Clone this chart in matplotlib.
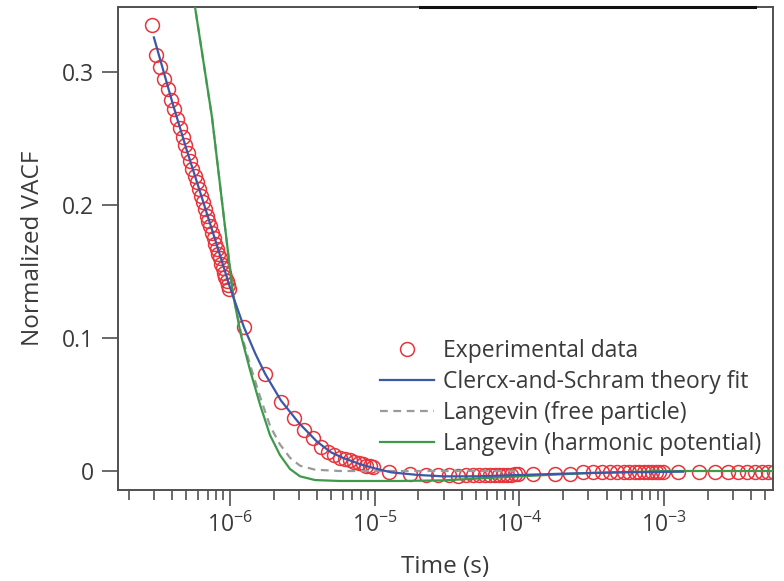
import numpy as np
import matplotlib
matplotlib.use("Agg")
import matplotlib.pyplot as plt
from matplotlib.ticker import LogLocator, FixedLocator

plt.rcParams['font.family'] = ['Open Sans', 'DejaVu Sans']
plt.rcParams['mathtext.fontset'] = 'custom'
plt.rcParams['mathtext.rm'] = 'Open Sans'
plt.rcParams['mathtext.it'] = 'Open Sans:italic'
plt.rcParams['mathtext.bf'] = 'Open Sans:bold'

exp_t1 = np.array([2.9, 3.1, 3.3, 3.5, 3.7, 3.9, 4.1, 4.3, 4.5, 4.7, 4.9, 5.1,
                   5.3, 5.5, 5.7, 5.9, 6.1, 6.3, 6.5, 6.7, 6.9, 7.1, 7.3, 7.5,
                   7.7, 7.9, 8.1, 8.3, 8.5, 8.7, 8.9, 9.1, 9.3, 9.5, 9.7, 9.9]) * 1e-7
exp_v1 = [0.335, 0.313, 0.304, 0.295, 0.287, 0.279, 0.272, 0.265, 0.258, 0.251,
          0.245, 0.239, 0.233, 0.227, 0.222, 0.217, 0.212, 0.207, 0.202, 0.197,
          0.192, 0.188, 0.184, 0.179, 0.175, 0.171, 0.167, 0.163, 0.160, 0.156,
          0.153, 0.149, 0.146, 0.143, 0.140, 0.137]
mant = np.array([1.25, 1.75, 2.25, 2.75, 3.25, 3.75, 4.25, 4.75, 5.25, 5.75,
                 6.25, 6.75, 7.25, 7.75, 8.25, 8.75, 9.25, 9.75])
exp_t2 = mant * 1e-6
exp_v2 = [0.108, 0.073, 0.052, 0.040, 0.031, 0.025, 0.018, 0.014, 0.012, 0.010,
          0.009, 0.008, 0.007, 0.006, 0.005, 0.004, 0.004, 0.003]
exp_t3 = mant * 1e-5
exp_v3 = [-0.001, -0.002, -0.003, -0.003, -0.003, -0.004, -0.003, -0.003, -0.003,
          -0.003, -0.003, -0.003, -0.003, -0.003, -0.003, -0.003, -0.002, -0.002]
exp_t4 = mant * 1e-4
exp_v4 = [-0.002, -0.002, -0.002, -0.001, -0.001, -0.001, -0.001, -0.001, -0.001,
          -0.001, -0.001, -0.001, -0.001, -0.001, -0.001, -0.001, -0.001, -0.001]
exp_t5 = mant[:10] * 1e-3
exp_v5 = [-0.0005, -0.0005, -0.0005, -0.0005, -0.0005, -0.0005, -0.0005, -0.0005,
          -0.0005, -0.0005]

# Clercx-and-Schram fit
fit_t = [2.98e-7, 4e-7, 5e-7, 6e-7, 7e-7, 8e-7, 1e-6, 1.25e-6, 1.5e-6, 1.75e-6,
         2.25e-6, 3e-6, 4e-6, 5e-6, 6e-6, 8e-6, 1e-5, 1.3e-5, 2e-5, 3e-5, 5e-5,
         1e-4, 2e-4, 5e-4, 1.35e-3]
fit_v = [0.326, 0.277, 0.242, 0.215, 0.192, 0.172, 0.138, 0.108, 0.088, 0.073,
         0.053, 0.036, 0.022, 0.014, 0.010, 0.005, 0.002, -0.001, -0.003, -0.004,
         -0.004, -0.003, -0.002, -0.001, -0.0005]

# Langevin, free particle
free_t = [4.5e-7, 5.73e-7, 7.51e-7, 9.09e-7, 1.049e-6, 1.191e-6, 1.375e-6, 1.612e-6,
          1.89e-6, 2.215e-6, 2.598e-6, 3.046e-6, 3.868e-6, 5.76e-6, 1e-5, 1e-4]
free_v = [0.43, 0.349, 0.266, 0.190, 0.133, 0.104, 0.080, 0.056,
          0.034, 0.020, 0.010, 0.004, 0.001, 0.0, 0.0, 0.0]

# Langevin, harmonic potential
harm_t = [4.5e-7, 5.73e-7, 7.51e-7, 9.09e-7, 1.049e-6, 1.191e-6, 1.375e-6, 1.612e-6,
          1.89e-6, 2.215e-6, 2.598e-6, 3.046e-6, 3.868e-6, 5.76e-6, 1.5e-5, 3e-5,
          1e-4, 3e-4, 1e-3, 5.7e-3]
harm_v = [0.43, 0.349, 0.266, 0.190, 0.133, 0.102, 0.076, 0.050,
          0.027, 0.012, 0.0015, -0.004, -0.0068, -0.0075, -0.0075, -0.007,
          -0.004, -0.0015, 0.0, 0.0]

exp_t = np.concatenate([exp_t1, exp_t2, exp_t3, exp_t4, exp_t5])
exp_v = exp_v1 + exp_v2 + exp_v3 + exp_v4 + exp_v5

txt = '#3a3a3a'
spine = '#505050'

fig = plt.figure(figsize=(7.84, 5.81), dpi=100)
ax = fig.add_axes([0.1505, 0.1566, 0.8355, 0.8314])

ax.plot(exp_t, exp_v, 'o', ms=10, mfc='none', mec='#e8343c', mew=1.1,
        label='Experimental data', zorder=2)
ax.plot(fit_t, fit_v, '-', color='#3b57a8', lw=1.6,
        label='Clercx-and-Schram theory fit', zorder=4)
ax.plot(free_t, free_v, '--', color='#9a9a9a', lw=1.6, dashes=(3.5, 2.5),
        label='Langevin (free particle)', zorder=3)
ax.plot(harm_t, harm_v, '-', color='#3d9a4a', lw=1.6,
        label='Langevin (harmonic potential)', zorder=3)

ax.set_xscale('log')
ax.set_xlim(1.683e-7, 5.656e-3)
ax.set_ylim(-0.01429, 0.3489)
ax.xaxis.set_major_locator(LogLocator(base=10, numticks=20))
ax.xaxis.set_minor_locator(LogLocator(base=10, subs=np.arange(2, 10), numticks=20))
ax.yaxis.set_major_locator(FixedLocator([0, 0.1, 0.2, 0.3]))
ax.set_yticklabels(['0', '0.1', '0.2', '0.3'])

for s in ax.spines.values():
    s.set_color(spine)
    s.set_linewidth(1.4)
ax.plot([0.461, 0.9725], [1, 1], color='#111111', lw=2.2,
        transform=ax.transAxes, clip_on=False, zorder=5)

ax.tick_params(which='major', direction='out', length=11.5, width=1.2,
               color=spine, labelcolor=txt, labelsize=16.5, pad=5)
ax.tick_params(axis='y', which='major', pad=6)
ax.tick_params(which='minor', direction='out', length=7, width=1.2, color=spine)
ax.tick_params(axis='y', which='minor', left=False)

ax.set_xlabel('Time (s)', fontsize=17.5, color=txt, labelpad=12)
ax.set_ylabel('Normalized VACF', fontsize=17.5, color=txt, labelpad=12)

leg = ax.legend(loc='upper left', bbox_to_anchor=(0.4, 0.312), frameon=False,
                fontsize=16.5, handlelength=2.35, handletextpad=0.4,
                labelspacing=0.3, borderaxespad=0, borderpad=0)
for t in leg.get_texts():
    t.set_color(txt)

fig.savefig('out.png', dpi=100)
